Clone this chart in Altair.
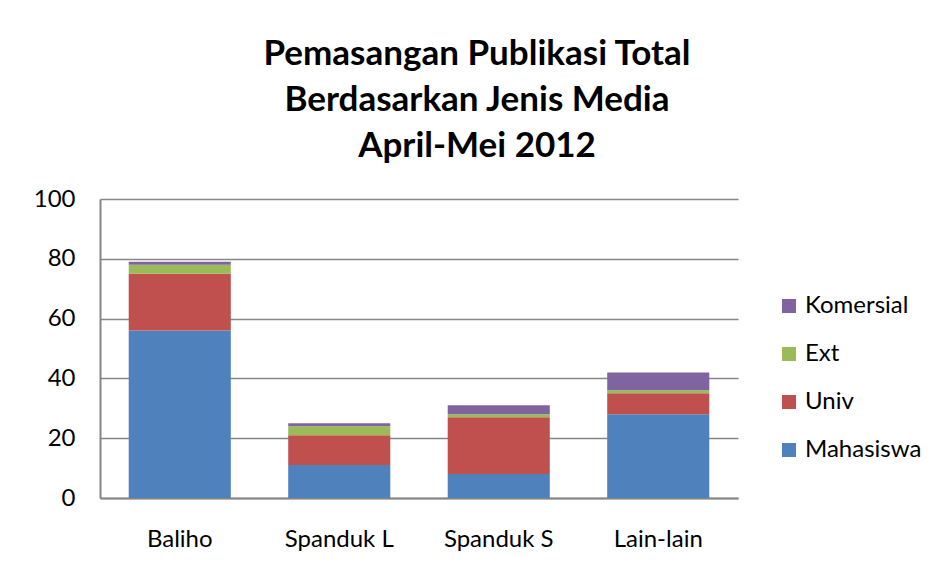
import altair as alt
import pandas as pd

categories = ["Baliho", "Spanduk L", "Spanduk S", "Lain-lain"]
series = ["Mahasiswa", "Univ", "Ext", "Komersial"]
mahasiswa = [56, 11, 8, 28]
univ = [19, 10, 19, 7]
ext = [3, 3, 1, 1]
komersial = [1, 1, 3, 6]
colors = ["#4F81BD", "#C0504D", "#9BBB59", "#8064A2"]

values = {"Mahasiswa": mahasiswa, "Univ": univ, "Ext": ext, "Komersial": komersial}
rows = []
for si, s in enumerate(series):
    for ci, c in enumerate(categories):
        rows.append({"Media": c, "Jenis": s, "Nilai": values[s][ci], "urut": si})
df = pd.DataFrame(rows)

FONT = "Lato"

chart = alt.Chart(df).mark_bar().encode(
    x=alt.X("Media:N", sort=categories,
            scale=alt.Scale(paddingInner=0.36, paddingOuter=0.18),
            axis=alt.Axis(title=None, labelAngle=0, labelFontSize=24, labelFont=FONT,
                          labelColor="#000000", labelPadding=29, ticks=False,
                          domainColor="#868686", domainWidth=2, grid=False)),
    y=alt.Y("Nilai:Q", stack="zero",
            scale=alt.Scale(domain=[0, 100], nice=False),
            axis=alt.Axis(title=None, values=[0, 20, 40, 60, 80, 100], labelFontSize=24,
                          labelFont=FONT, labelColor="#000000", labelPadding=25, ticks=False,
                          domainColor="#868686", domainWidth=2, gridColor="#868686",
                          gridWidth=1.5)),
    color=alt.Color("Jenis:N",
                    scale=alt.Scale(domain=series[::-1], range=colors[::-1]),
                    legend=alt.Legend(title=None, orient="none", legendX=677, legendY=95,
                                      symbolType="square", symbolSize=196,
                                      symbolStrokeWidth=0, labelFontSize=24,
                                      labelFont=FONT, labelColor="#000000",
                                      rowPadding=24, labelOffset=4)),
    order=alt.Order("urut:Q", sort="ascending"),
).properties(
    width=638,
    height=299,
    padding={"left": 92, "top": 191, "right": 191, "bottom": 73},
    autosize=alt.AutoSizeParams(type="none"),
    title=alt.TitleParams(
        ["Pemasangan Publikasi Total", "Berdasarkan Jenis Media", "April-Mei 2012"],
        fontSize=35, font=FONT, fontWeight="bold", color="#000000",
        lineHeight=46, anchor="middle", dx=58, offset=23),
).configure_view(stroke=None)

chart.save("out.html", embed_options={"renderer": "svg", "actions": False})
